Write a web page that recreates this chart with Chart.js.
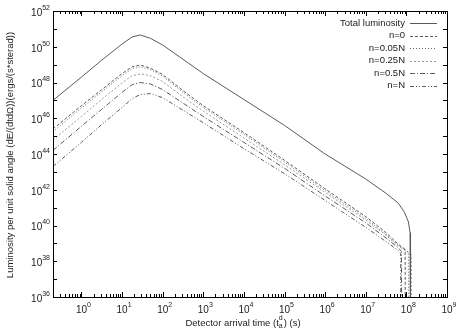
<!DOCTYPE html>
<html>
<head>
<meta charset="utf-8">
<script src="https://cdn.jsdelivr.net/npm/chart.js@4"></script>
<style>
  html, body { margin: 0; padding: 0; background: #fff; }
  canvas { display: block; }
</style>
</head>
<body>
<canvas id="chart" width="463" height="331"></canvas>
<script>
// log10 of detector arrival time (s), shared by all curves up to the knee
const logTime = [-0.7, 0, 0.5, 1.0, 1.25, 1.45, 1.7, 2.0, 2.5, 3.0, 4.0, 5.0, 6.0, 7.0, 7.5, 7.8];

// log10 of luminosity per unit solid angle
const lumTotal = [47.0, 48.3, 49.25, 50.15, 50.55, 50.66, 50.47, 50.1, 49.3, 48.5, 47.05, 45.6, 44.0, 42.6, 41.8, 41.25];
const lumN0 = [45.4, 46.7, 47.6, 48.5, 48.88, 48.98, 48.8, 48.45, 47.55, 46.7, 45.2, 43.65, 42.05, 40.5, 39.6, 38.95];
const lumN005 = [45.25, 46.57, 47.48, 48.38, 48.78, 48.88, 48.72, 48.36, 47.45, 46.6, 45.1, 43.55, 41.95, 40.4, 39.5, 38.9];
const lumN025 = [44.78, 46.1, 47.05, 47.98, 48.38, 48.48, 48.38, 48.05, 47.2, 46.4, 44.9, 43.4, 41.85, 40.3, 39.45, 38.85];
const lumN05 = [44.2, 45.55, 46.5, 47.45, 47.88, 48.0, 47.92, 47.6, 46.85, 46.1, 44.65, 43.2, 41.65, 40.15, 39.3, 38.75];
const lumNN = [43.3, 44.65, 45.65, 46.6, 47.1, 47.33, 47.38, 47.15, 46.45, 45.75, 44.3, 42.9, 41.4, 39.9, 39.1, 38.6];

// the sharp cut-off near 1e8 s, as [log10 t, log10 L]
const tailTotal = [[7.95, 40.75], [8.05, 40.2], [8.09, 39.6], [8.1, 38.8], [8.105, 30]];
const tailN0 = [[7.95, 38.7], [7.97, 38.6], [7.975, 30]];
const tailN005 = [[8.0, 38.6], [8.05, 38.5], [8.055, 30]];
const tailN025 = [[8.0, 38.55], [8.12, 38.4], [8.125, 30]];
const tailN05 = [[7.88, 38.55], [7.885, 30]];
const tailNN = [[7.86, 38.45], [7.865, 30]];

const seriesLabels = ['Total luminosity', 'n=0', 'n=0.05N', 'n=0.25N', 'n=0.5N', 'n=N'];

// tick label exponents
const xTickExps = [0, 1, 2, 3, 4, 5, 6, 7, 8, 9];
const yTickExps = [36, 38, 40, 42, 44, 46, 48, 50, 52];

const FONT = "'Liberation Sans', Arial, Helvetica, sans-serif";

function toPoints(lum, tail) {
  const pts = logTime.map((lt, i) => ({ x: Math.pow(10, lt), y: Math.pow(10, lum[i]) }));
  tail.forEach(([lt, ll]) => pts.push({ x: Math.pow(10, lt), y: Math.pow(10, ll) }));
  return pts;
}

const styles = [
  { color: '#5a5a5a', dash: [] },
  { color: '#5a5a5a', dash: [3, 2] },
  { color: '#666666', dash: [1, 2] },
  { color: '#999999', dash: [2, 2] },
  { color: '#5a5a5a', dash: [5, 2, 1, 2] },
  { color: '#5a5a5a', dash: [4, 2, 1, 2, 1, 2] },
];

const series = [
  toPoints(lumTotal, tailTotal),
  toPoints(lumN0, tailN0),
  toPoints(lumN005, tailN005),
  toPoints(lumN025, tailN025),
  toPoints(lumN05, tailN05),
  toPoints(lumNN, tailNN),
];

function drawPow(ctx, exp, cx, cy, align) {
  ctx.font = '10px ' + FONT;
  const w1 = ctx.measureText('10').width;
  ctx.font = '7px ' + FONT;
  const w2 = ctx.measureText(String(exp)).width;
  let left = align === 'right' ? cx - w1 - w2 : cx - (w1 + w2) / 2;
  ctx.textAlign = 'left';
  ctx.textBaseline = 'middle';
  ctx.font = '10px ' + FONT;
  ctx.fillText('10', left, cy + 2);
  ctx.font = '7px ' + FONT;
  ctx.fillText(String(exp), left + w1, cy - 3);
}

const frame = {
  id: 'frame',
  afterDraw(chart) {
    const { ctx, chartArea: a, scales: { x, y } } = chart;
    ctx.save();
    ctx.strokeStyle = '#000';
    ctx.fillStyle = '#222';
    ctx.lineWidth = 1;
    ctx.setLineDash([]);
    ctx.strokeRect(a.left + 0.5, a.top + 0.5, a.right - a.left, a.bottom - a.top);

    // x ticks, inward on bottom and top
    ctx.beginPath();
    for (let k = -1; k <= 9; k++) {
      for (let m = 1; m <= 9; m++) {
        const v = m * Math.pow(10, k);
        if (v < x.min || v > x.max) continue;
        const px = Math.round(x.getPixelForValue(v)) + 0.5;
        const len = m === 1 ? 5 : 3;
        ctx.moveTo(px, a.bottom); ctx.lineTo(px, a.bottom - len);
        ctx.moveTo(px, a.top); ctx.lineTo(px, a.top + len);
      }
    }
    // y ticks every decade, inward on left and right
    for (let e = 36; e <= 52; e++) {
      const py = Math.round(y.getPixelForValue(Math.pow(10, e))) + 0.5;
      ctx.moveTo(a.left, py); ctx.lineTo(a.left + 4, py);
      ctx.moveTo(a.right, py); ctx.lineTo(a.right - 4, py);
    }
    ctx.stroke();

    xTickExps.forEach(e => drawPow(ctx, e, x.getPixelForValue(Math.pow(10, e)) + 2, 308, 'center'));
    yTickExps.forEach(e => drawPow(ctx, e, a.left - 3, y.getPixelForValue(Math.pow(10, e)), 'right'));

    // axis titles
    ctx.font = '9.5px ' + FONT;
    ctx.textBaseline = 'middle';
    ctx.save();
    ctx.translate(10, 155);
    ctx.rotate(-Math.PI / 2);
    ctx.textAlign = 'center';
    ctx.fillText('Luminosity per unit solid angle (dE/(dtd\u03A9))(ergs/(s*sterad))', 0, 0);
    ctx.restore();

    const p1 = 'Detector arrival time (t', p2 = ') (s)';
    ctx.font = '9.5px ' + FONT;
    const w1 = ctx.measureText(p1).width, w3 = ctx.measureText(p2).width;
    ctx.font = '7px ' + FONT;
    const w2 = Math.max(ctx.measureText('a').width, ctx.measureText('d').width) + 1;
    let tx = 243 - (w1 + w2 + w3) / 2;
    ctx.textAlign = 'left';
    ctx.font = '9.5px ' + FONT;
    ctx.fillText(p1, tx, 323);
    ctx.font = '7px ' + FONT;
    ctx.fillText('a', tx + w1, 326);
    ctx.fillText('d', tx + w1, 318);
    ctx.font = '9.5px ' + FONT;
    ctx.fillText(p2, tx + w1 + w2, 323);

    // legend
    chart.data.datasets.forEach((ds, i) => {
      const ry = 23 + i * 12.5;
      ctx.font = '9.5px ' + FONT;
      ctx.textAlign = 'right';
      ctx.fillStyle = '#222';
      ctx.fillText(ds.label, 405, ry);
      ctx.strokeStyle = ds.borderColor;
      ctx.setLineDash(ds.borderDash);
      ctx.beginPath();
      ctx.moveTo(410, Math.round(ry) + 0.5);
      ctx.lineTo(437, Math.round(ry) + 0.5);
      ctx.stroke();
    });
    ctx.restore();
  }
};

new Chart(document.getElementById('chart'), {
  type: 'line',
  data: {
    datasets: series.map((pts, i) => ({
      label: seriesLabels[i],
      data: pts,
      borderColor: styles[i].color,
      borderDash: styles[i].dash,
      borderWidth: 1,
      pointRadius: 0,
      fill: false,
      tension: 0,
    }))
  },
  options: {
    responsive: false,
    animation: false,
    devicePixelRatio: 1,
    layout: { padding: { top: 11, right: 16, left: 0, bottom: 0 } },
    plugins: { legend: { display: false }, tooltip: { enabled: false } },
    scales: {
      x: {
        type: 'logarithmic',
        min: 0.2,
        max: 1e9,
        ticks: { display: false },
        grid: { display: false },
        border: { display: false },
        afterFit: s => { s.height = 34; },
      },
      y: {
        type: 'logarithmic',
        min: 1e36,
        max: 1e52,
        ticks: { display: false },
        grid: { display: false },
        border: { display: false },
        afterFit: s => { s.width = 53; },
      }
    }
  },
  plugins: [frame]
});
</script>
</body>
</html>
